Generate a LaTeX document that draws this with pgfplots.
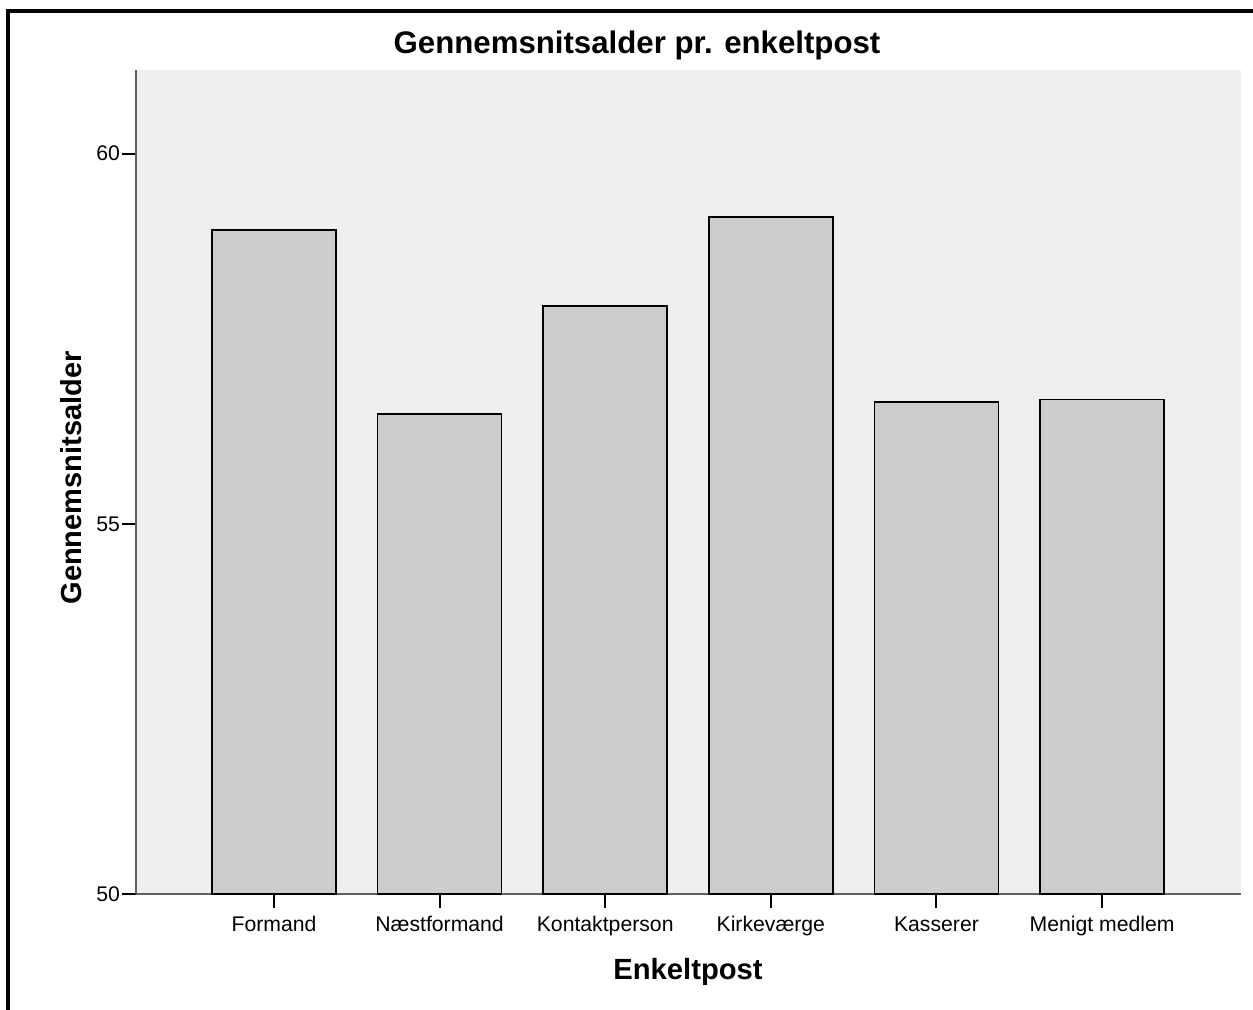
\documentclass[border=0pt]{standalone}
\usepackage{fontspec}
\setmainfont{Liberation Sans}
\usepackage{pgfplots}
\pgfplotsset{compat=1.18}
\definecolor{plotbg}{HTML}{EFEFEF}
\definecolor{barfill}{HTML}{CCCCCC}
\definecolor{axgray}{HTML}{606060}
\begin{document}
\begin{tikzpicture}
\useasboundingbox (0pt,0pt) rectangle (626.5pt,504.5pt);
\draw[line width=1.7pt, line cap=rect] (4pt,0pt) -- (4pt,499pt) -- (626.5pt,499pt);
\begin{axis}[
  at={(68pt,57.5pt)}, anchor=south west,
  scale only axis, width=552.5pt, height=412pt,
  xmin=-0.833, xmax=5.839, ymin=50, ymax=61.13,
  axis background/.style={fill=plotbg},
  axis x line*=bottom, axis y line*=left,
  axis line style={draw=axgray, line width=0.8pt, -},
  ytick={50,55,60},
  xtick={0,1,2,3,4,5},
  xticklabels={Formand,Næstformand,Kontaktperson,Kirkeværge,Kasserer,Menigt medlem},
  tick align=outside,
  major tick length=6.8pt,
  tick style={black, line width=1pt},
  /pgf/number format/assume math mode=true,
  tick label style={font=\fontsize{10.6pt}{12pt}\selectfont},
  yticklabel style={xshift=2.3pt},
  xticklabel style={yshift=-1pt, text height=0.72em, text depth=0.2em},
  ybar, bar width=62pt,
]
\addplot[fill=barfill, draw=black, line width=0.9pt] coordinates {
  (0,58.97) (1,56.48) (2,57.94) (3,59.14) (4,56.65) (5,56.68)
};
\end{axis}
\node[font=\bfseries\fontsize{15.6pt}{18pt}\selectfont] at (318.5pt,482pt) {Gennemsnitsalder pr. enkeltpost};
\node[font=\bfseries\fontsize{14.5pt}{17pt}\selectfont, rotate=90] at (35.8pt,265.5pt) {Gennemsnitsalder};
\node[font=\bfseries\fontsize{14.6pt}{17pt}\selectfont] at (344pt,18.5pt) {Enkeltpost};
\end{tikzpicture}
\end{document}
